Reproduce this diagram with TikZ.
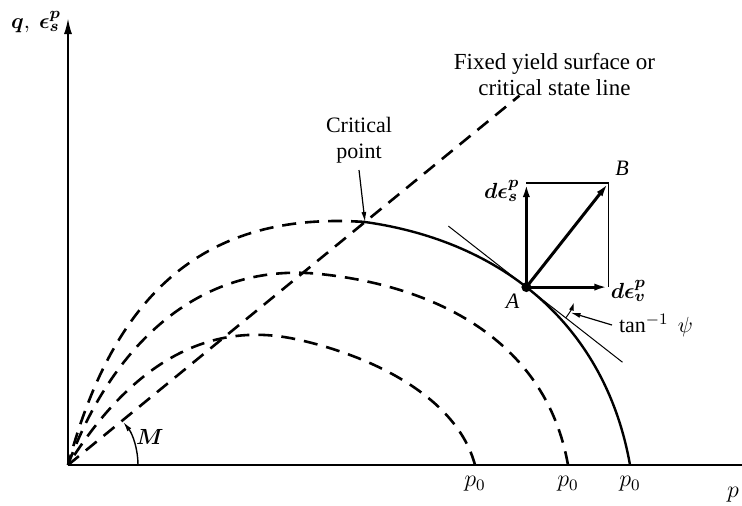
\documentclass[tikz,border=0pt]{standalone}
\usepackage{fontspec}
\setmainfont{Liberation Serif}
\usepackage{bm}
\usetikzlibrary{arrows.meta,calc}
\begin{document}
\begin{tikzpicture}[x=0.5pt,y=0.5pt,
  dashcurve/.style={line width=1.3pt,dash pattern=on 7pt off 4.5pt},
  strain/.style={line width=1.5pt,-{Latex[length=7pt,width=3.5pt]}},
  pointer/.style={line width=0.6pt,-{Latex[length=5pt,width=2.5pt]}},
  lbl/.style={font=\fontsize{11}{13}\selectfont}]
\useasboundingbox (0,0) rectangle (742,505);
% axes
\coordinate (O) at (68,40);
\draw[line width=1pt,-{Latex[length=8pt,width=4pt]}] (O) -- (68,487) coordinate (qtop);
\draw[line width=1pt] (O) -- (742,40);
\node[lbl,left] at ($(qtop)+(0,-4)$) {$\bm{q},\ \bm{\epsilon^{p}_{s}}$};
\node[font=\fontsize{12}{14}\selectfont] at (733,10) {$p$};
% yield surfaces
\coordinate (C) at (365,283);
\draw[dashcurve] (475,40) to[out=105,in=-12,looseness=0.85] (295,166) to[out=168,in=58] (O);
\draw[dashcurve] (568,40) to[out=100,in=-6] (320,231) to[out=174,in=70] (O);
\draw[line width=1.2pt] (C) to[out=-8,in=100] coordinate[pos=0.43] (Aa) coordinate[pos=0.45] (A)
  coordinate[pos=0.47] (Ab) (630,40);
\draw[dashcurve] (C) to[out=176,in=75,looseness=1.12] (O);
\foreach \px in {475,568,630}
  \node[font=\fontsize{12}{14}\selectfont,below=2pt] at (\px,40) {$p_0$};
% critical state line
\draw[dashcurve] (O) -- ($(O)!1.52!(C)$) coordinate (csltop);
\node[font=\fontsize{11.5}{13}\selectfont,align=center] (csllab) at ($(csltop)+(35,21)$) {Fixed yield surface or\\critical state line};
\node[lbl,align=center] (critlab) at ($(C)+(-6,82)$) {Critical\\point};
\draw[pointer] (critlab.south) -- (C);
\draw[line width=0.7pt,-{Latex[length=5pt,width=2.5pt]}] ($(O)+(70,0)$) arc[start angle=0,end angle=38,radius=70];
\node[lbl] at ($(O)+(82,28)$) {$\bm{M}$};
% strain increment at A
\coordinate (T1) at ($(A)+(Aa)-(Ab)$);
\coordinate (T2) at ($(A)+(Ab)-(Aa)$);
\draw[line width=0.5pt] ($(A)!49.5pt!(T1)$) -- ($(A)!61pt!(T2)$);
\coordinate (B) at ($(A)+(82,104)$);
\draw[line width=0.6pt] (A |- B) -- (B) -- (B |- A);
\draw[strain] (A) -- (A |- B);
\draw[strain] (A) -- (B |- A);
\draw[strain] (A) -- (B);
\fill (A) circle[radius=5];
\node[lbl,above right] at (B) {\itshape B};
\node[lbl,below left] at (A) {\itshape A};
\node[lbl,left,yshift=-4pt] at (A |- B) {$\bm{d\epsilon^{p}_{s}}$};
\node[lbl,right,inner sep=1pt,yshift=-2pt] at (B |- A) {$\bm{d\epsilon^{p}_{v}}$};
\draw[line width=0.5pt,-{Latex[length=4pt,width=2.5pt]}] ($(A)+(-38:50)$) arc[start angle=-38,end angle=-18,radius=50];
\node[lbl,anchor=west] (tanlab) at (612,180) {$\tan^{-1}\ \psi$};
\draw[pointer] (tanlab.west) -- ($(A)+(-30:51)$);
\end{tikzpicture}
\end{document}
